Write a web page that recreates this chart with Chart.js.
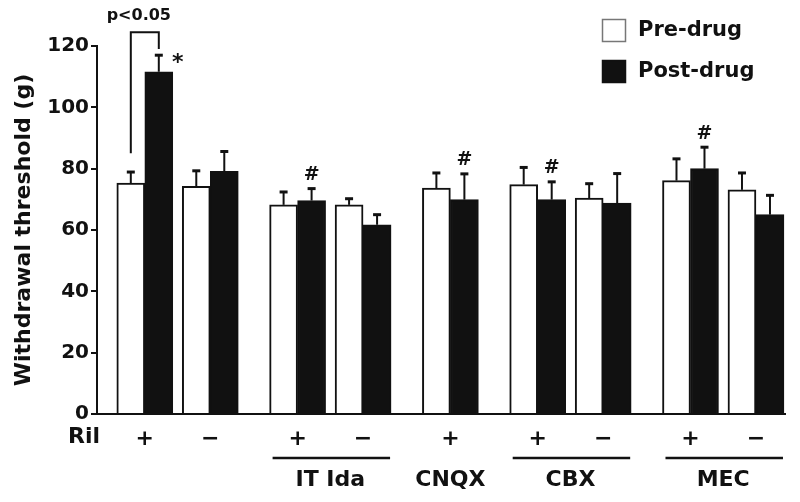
<!DOCTYPE html>
<html>
<head>
<meta charset="utf-8">
<script src="https://cdn.jsdelivr.net/npm/chart.js@4.4.0/dist/chart.umd.min.js"></script>
<style>
  html, body { margin: 0; padding: 0; background: #fff; }
  canvas { display: block; }
</style>
</head>
<body>
<canvas id="myChart" width="800" height="502"></canvas>
<script>
// drug groups along the x axis, each with Ril given (+) or not (−)
const groupNames = ['', 'IT Ida', 'CNQX', 'CBX', 'MEC'];
const groupRil = [['+', '−'], ['+', '−'], ['+'], ['+', '−'], ['+', '−']];

// withdrawal threshold (g): mean and error bar
const preDrug  = [75.3, 74.2, 68.2, 68.2, 73.7, 74.8, 70.4, 76.1, 73.1];
const postDrug = [111.6, 79.1, 69.6, 61.7, 69.9, 69.9, 68.8, 80.0, 65.0];
const preErr   = [3.6, 5.1, 4.2, 2.0, 4.9, 5.6, 4.7, 7.1, 5.5];
const postErr  = [5.4, 6.5, 3.9, 3.3, 8.4, 5.8, 9.6, 7.0, 6.3];

const yTicks = [0, 20, 40, 60, 80, 100, 120];

// conditions marked with # above the post-drug bar
const hashMarks = [2, 4, 5, 7];
// p<0.05 bracket over the first pair (values on the y scale)
const bracketTop = 124.5, bracketLeftEnd = 85, bracketRightEnd = 119;

const F = '"DejaVu Sans", sans-serif';
const INK = '#111';

// x slots: 3 apart inside a group, 4 between groups
let tickLabels = [], xPos = [], groupOf = [];
let pos = 0;
groupRil.forEach((g, gi) => {
    if (gi > 0) pos += 4;
    g.forEach((lab, k) => {
        if (k > 0) pos += 3;
        tickLabels.push(lab);
        xPos.push(pos);
        groupOf.push(gi);
    });
});

let data = {
    datasets: [
        {label: 'Pre-drug', err: preErr,
            data: xPos.map((x, i) => ({x: x, y: preDrug[i]})),
            backgroundColor: '#fff', borderColor: INK, borderWidth: 2},
        {label: 'Post-drug', err: postErr,
            data: xPos.map((x, i) => ({x: x, y: postDrug[i]})),
            backgroundColor: INK, borderColor: INK, borderWidth: 2}
    ]
};

// error bars on top of every bar
const errorBars = {
    id: 'errorBars',
    afterDatasetsDraw(chart) {
        const ctx = chart.ctx, y = chart.scales.y;
        ctx.save();
        ctx.strokeStyle = INK;
        chart.data.datasets.forEach((ds, d) => {
            chart.getDatasetMeta(d).data.forEach((bar, i) => {
                const top = y.getPixelForValue(ds.data[i].y + ds.err[i]);
                ctx.lineWidth = 2;
                ctx.beginPath();
                ctx.moveTo(bar.x, bar.y);
                ctx.lineTo(bar.x, top);
                ctx.stroke();
                ctx.lineWidth = 3;
                ctx.beginPath();
                ctx.moveTo(bar.x - 4, top);
                ctx.lineTo(bar.x + 4, top);
                ctx.stroke();
            });
        });
        ctx.restore();
    }
};

// bracket, stars, group labels and legend
const extras = {
    id: 'extras',
    afterDraw(chart) {
        const ctx = chart.ctx, y = chart.scales.y, area = chart.chartArea;
        const pre = chart.getDatasetMeta(0).data;
        const post = chart.getDatasetMeta(1).data;
        ctx.save();
        ctx.fillStyle = INK;
        ctx.strokeStyle = INK;

        // p<0.05 bracket
        const top = y.getPixelForValue(bracketTop);
        ctx.lineWidth = 2;
        ctx.beginPath();
        ctx.moveTo(pre[0].x, y.getPixelForValue(bracketLeftEnd));
        ctx.lineTo(pre[0].x, top);
        ctx.lineTo(post[0].x, top);
        ctx.lineTo(post[0].x, y.getPixelForValue(bracketRightEnd));
        ctx.stroke();
        ctx.font = 'bold 16px ' + F;
        ctx.textAlign = 'center';
        ctx.textBaseline = 'middle';
        ctx.fillText('p<0.05', (pre[0].x + post[0].x) / 2 - 6, top - 16);

        // * next to the first post-drug bar
        ctx.font = 'bold 22px ' + F;
        const cap0 = y.getPixelForValue(postDrug[0] + postErr[0]);
        ctx.fillText('*', post[0].x + 19, cap0 + 8);

        // # above the marked post-drug bars
        ctx.font = 'bold 19px ' + F;
        ctx.textBaseline = 'bottom';
        hashMarks.forEach(i => {
            const cap = y.getPixelForValue(postDrug[i] + postErr[i]);
            ctx.fillText('#', post[i].x, cap - 4);
        });

        // Ril row label
        ctx.font = 'bold 22px ' + F;
        ctx.textBaseline = 'middle';
        ctx.fillText('Ril', area.left - 13, area.bottom + 23);

        // drug group underlines and names
        groupNames.forEach((name, gi) => {
            if (!name) return;
            const idx = groupOf.map((g, i) => g === gi ? i : -1).filter(i => i >= 0);
            const x0 = pre[idx[0]].x - 14, x1 = post[idx[idx.length - 1]].x + 14;
            if (idx.length > 1) {
                ctx.lineWidth = 2.5;
                ctx.beginPath();
                ctx.moveTo(x0 + 3, area.bottom + 44);
                ctx.lineTo(x1 - 1, area.bottom + 44);
                ctx.stroke();
            }
            ctx.font = 'bold 22px ' + F;
            ctx.fillText(name, (x0 + x1) / 2, area.bottom + 66);
        });

        // legend
        ctx.textAlign = 'left';
        ctx.font = 'bold 21px ' + F;
        chart.data.datasets.forEach((ds, d) => {
            const by = 19 + d * 41;
            ctx.fillStyle = ds.backgroundColor;
            ctx.fillRect(602, by, 24, 23);
            ctx.lineWidth = 1.5;
            ctx.strokeStyle = d === 0 ? '#777' : INK;
            ctx.strokeRect(602.5, by + 0.5, 23, 22);
            ctx.fillStyle = INK;
            ctx.fillText(ds.label, 638, by + 12);
        });
        ctx.restore();
    }
};

const config = {
    type: 'bar',
    data: data,
    plugins: [errorBars, extras],
    options: {
        responsive: false,
        animation: false,
        layout: {padding: {top: 46, right: 15, left: 0, bottom: 0}},
        datasets: {bar: {barThickness: 28}},
        plugins: {legend: {display: false}, tooltip: {enabled: false}},
        scales: {
            x: {
                type: 'linear', min: -2.19, max: 29.33, offset: false,
                grid: {display: false, drawTicks: false, offset: false},
                border: {display: true, color: INK, width: 2},
                afterBuildTicks: s => { s.ticks = xPos.map(v => ({value: v})); },
                afterFit: s => { s.height = 88; },
                ticks: {
                    autoSkip: false, maxRotation: 0, padding: 12, color: INK,
                    font: {family: F, size: 22, weight: 'bold'},
                    callback: (v, i) => tickLabels[i]
                }
            },
            y: {
                min: 0, max: 120,
                afterBuildTicks: s => { s.ticks = yTicks.map(v => ({value: v})); },
                afterFit: s => { s.width = 97; },
                grid: {display: true, drawOnChartArea: false, drawTicks: true, tickLength: 6, color: INK, lineWidth: 2},
                border: {display: true, color: INK, width: 2},
                ticks: {padding: 2, color: INK, font: {family: F, size: 20, weight: 'bold'}},
                title: {
                    display: true, text: 'Withdrawal threshold (g)', color: INK,
                    font: {family: F, size: 22, weight: 'bold'},
                    padding: {top: 11, bottom: 0}
                }
            }
        }
    }
};

window.onload = function () {
    const myChart = new Chart(document.getElementById('myChart'), config);
};
</script>
</body>
</html>
